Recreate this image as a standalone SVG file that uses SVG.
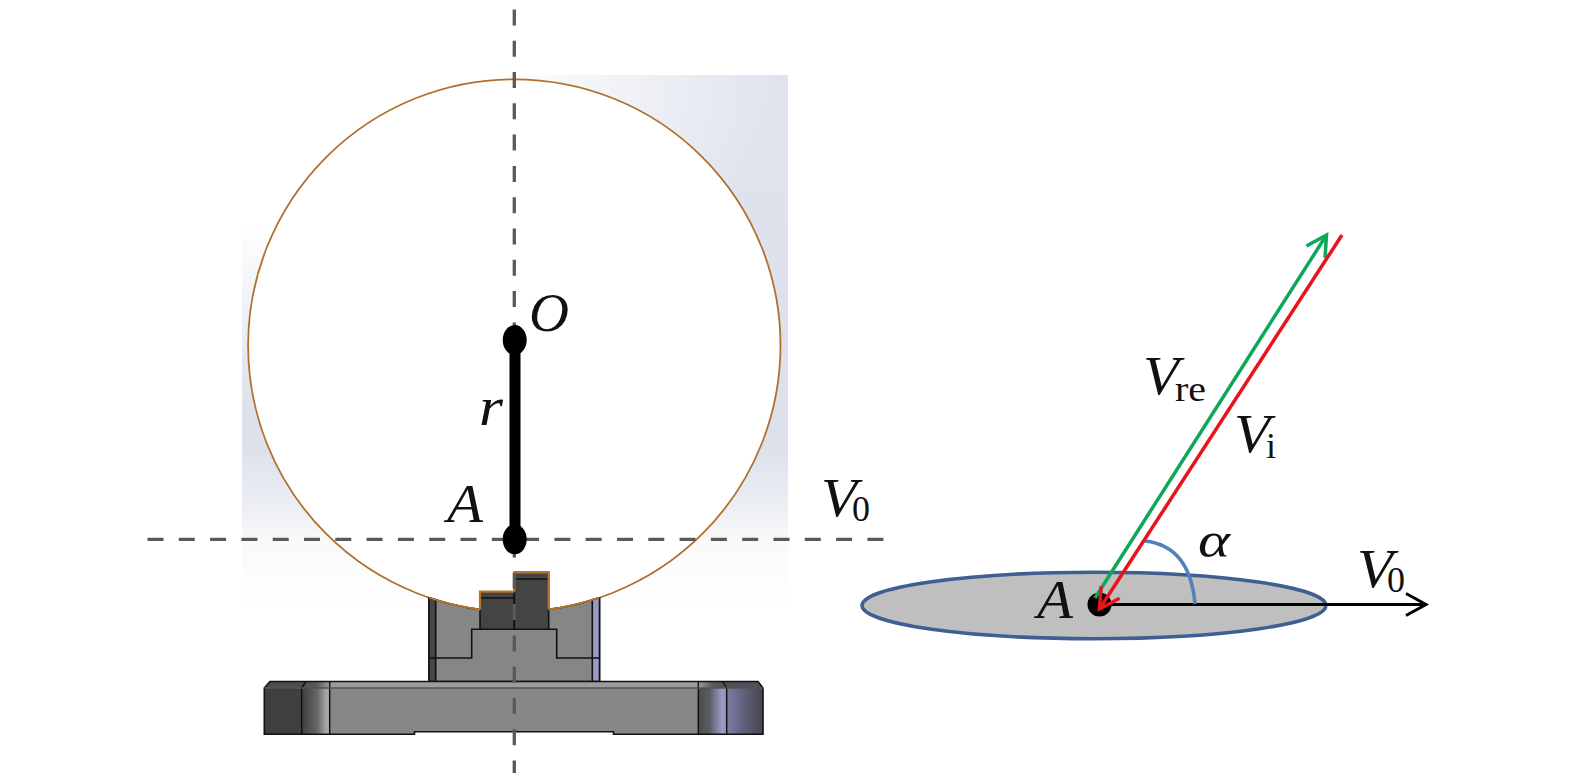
<svg xmlns="http://www.w3.org/2000/svg" width="1575" height="781" viewBox="0 0 1575 781">
<style>
.m{font-family:"Liberation Serif","Times New Roman",serif;font-style:italic;font-size:54px;fill:#111}
.s{font-family:"Liberation Serif","Times New Roman",serif;font-size:36px;fill:#111}
.e{stroke:#111;stroke-width:1.6;stroke-linejoin:round}
.d{stroke:#595959;stroke-width:3.3;fill:none}
.o{fill:none;stroke:#b8742c;stroke-width:2.2}
</style>
<defs>
<linearGradient id="bgV" gradientUnits="userSpaceOnUse" x1="0" y1="75" x2="0" y2="739"><stop offset="0" stop-color="#dfe3ed"/><stop offset=".56" stop-color="#dde1ec"/><stop offset=".65" stop-color="#eceef4"/><stop offset=".7" stop-color="#f9f9fb"/><stop offset=".76" stop-color="#fdfdfd"/><stop offset=".81" stop-color="#fff"/><stop offset="1" stop-color="#fff"/></linearGradient>
<radialGradient id="bgTL" gradientUnits="userSpaceOnUse" cx="0" cy="0" r="330" gradientTransform="translate(242,75) scale(1.65,1)"><stop offset="0" stop-color="#fff"/><stop offset=".45" stop-color="#fff"/><stop offset="1" stop-color="#fff" stop-opacity="0"/></radialGradient>
<linearGradient id="lg" x1="0" x2="1" y1="0" y2="0"><stop offset="0" stop-color="#3f3f42"/><stop offset=".55" stop-color="#666"/><stop offset=".9" stop-color="#aaa"/><stop offset="1" stop-color="#999"/></linearGradient>
<linearGradient id="rg" x1="0" x2="1" y1="0" y2="0"><stop offset="0" stop-color="#4a4a4c"/><stop offset=".4" stop-color="#5c5c66"/><stop offset=".85" stop-color="#9c9cc8"/><stop offset="1" stop-color="#8c8cb4"/></linearGradient>
<linearGradient id="rg2" x1="0" x2="1" y1="0" y2="0"><stop offset="0" stop-color="#7d7da6"/><stop offset=".5" stop-color="#5e5e78"/><stop offset="1" stop-color="#47474f"/></linearGradient>
<linearGradient id="tl" x1="0" x2="1" y1="0" y2="0"><stop offset="0" stop-color="#4c4c4e"/><stop offset=".55" stop-color="#5a5a5c"/><stop offset="1" stop-color="#9c9c9c"/></linearGradient>
<linearGradient id="tr" x1="0" x2="1" y1="0" y2="0"><stop offset="0" stop-color="#9c9c9c"/><stop offset=".5" stop-color="#5a5a5c"/><stop offset="1" stop-color="#505058"/></linearGradient>
<marker id="hk" markerUnits="userSpaceOnUse" markerWidth="30" markerHeight="30" refX="23" refY="15" orient="auto"><path d="M3 4L23 15L3 26" fill="none" stroke="#000" stroke-width="3"/></marker>
<marker id="hg" markerUnits="userSpaceOnUse" markerWidth="30" markerHeight="30" refX="23" refY="15" orient="auto"><path d="M3 4L23 15L3 26" fill="none" stroke="#0ca858" stroke-width="3.5"/></marker>
<marker id="hr" markerUnits="userSpaceOnUse" markerWidth="30" markerHeight="30" refX="23" refY="15" orient="auto"><path d="M3 4L23 15L3 26" fill="none" stroke="#e8141c" stroke-width="3.5"/></marker>
</defs>
<rect width="1575" height="781" fill="#fff"/>
<g id="background">
<rect x="242" y="75" width="546" height="664" fill="url(#bgV)"/>
<rect x="242" y="75" width="546" height="664" fill="url(#bgTL)"/>
</g>
<g id="sphere"><circle cx="514.3" cy="345.5" r="266.2" fill="#fff" stroke="#b0702e" stroke-width="1.8"/></g>
<g id="support">
<path class="e" d="M429 597.700A266.200 266.200 0 0 0 599.500 597.700V681.500H429Z" fill="#868686"/>
<path class="e" d="M429 597.700L435.700 599.800V681.500H429Z" fill="#47474a"/>
<path class="e" d="M592.300 599.800L599.500 597.700V681.500H592.300Z" fill="#9a9ac8"/>
<path d="M429 658H471.700V629.300H556.700V658H599.500" fill="none" stroke="#111" stroke-width="1.6"/>
<rect class="e" x="480" y="591.700" width="34.300" height="37.600" fill="#444"/>
<rect class="e" x="514.300" y="572.300" width="34.400" height="57" fill="#444"/>
<path d="M480 598H514.300M514.300 579H548.700" stroke="#111" stroke-width="1.500"/>
<path class="o" d="M480 609.500V591.700H514.300M514.300 591.700V572.300H548.700V609.500"/>
<path class="o" style="stroke-width:1.800" d="M429 597.700A266.200 266.200 0 0 0 480 609.500M548.700 609.500A266.200 266.200 0 0 0 599.500 597.700"/>
</g>
<g id="plate">
<path d="M264.300 688L270 681.500H758L763 688V734.300H613.500V731.700H414.500V734.300H264.300Z" fill="#868686"/>
<path d="M264.300 688L270 681.500H306L301.700 688Z" fill="#4c4c4e"/>
<path d="M301.700 688L306 681.500H329.700V688Z" fill="url(#tl)"/>
<rect x="329.700" y="681.500" width="368.600" height="6.500" fill="#9c9c9c"/>
<path d="M698.300 681.500H722.700L726.700 688H698.300Z" fill="url(#tr)"/>
<path d="M722.700 681.500H758L763 688H726.700Z" fill="#505058"/>
<rect x="264.300" y="688" width="37.400" height="46.300" fill="#3f3f42"/>
<rect x="301.700" y="688" width="28" height="46.300" fill="url(#lg)"/>
<rect x="698.300" y="688" width="28.400" height="46.300" fill="url(#rg)"/>
<rect x="726.700" y="688" width="36.300" height="46.300" fill="url(#rg2)"/>
<path d="M264.300 688L270 681.500H758L763 688V734.300H613.500V731.700H414.500V734.300H264.300Z" fill="none" stroke="#111" stroke-width="1.600"/>
<path d="M301.700 688V734.300M329.700 681.500V734.300M698.300 681.500V734.300M726.700 688V734.300M301.700 688L306 681.500M726.700 688L722.700 681.500" fill="none" stroke="#111" stroke-width="1.400"/>
<line x1="264.300" y1="688" x2="763" y2="688" stroke="#555" stroke-width="1.500"/>
</g>
<g id="connectors">
<line class="d" x1="514.300" y1="9.400" x2="514.300" y2="773" stroke-dasharray="16 15.300"/>
<line class="d" x1="147.500" y1="539.300" x2="884" y2="539.300" stroke-dasharray="16 15.300"/>
</g>
<g id="radius">
<line x1="515" y1="340" x2="515" y2="539.300" stroke="#000" stroke-width="11"/>
</g>
<g id="node-O"><ellipse cx="514.700" cy="340" rx="12" ry="15" fill="#000"/><text class="m" x="529" y="331" textLength="40" lengthAdjust="spacingAndGlyphs">O</text></g>
<g id="node-A"><ellipse cx="514.700" cy="539.300" rx="12" ry="15" fill="#000"/><text class="m" x="447" y="522" textLength="36" lengthAdjust="spacingAndGlyphs">A</text></g>
<text id="label-r" class="m" x="479" y="425" textLength="24" lengthAdjust="spacingAndGlyphs">r</text>
<g id="label-V0-left"><text class="m" x="821" y="516" textLength="36" lengthAdjust="spacingAndGlyphs">V</text><text class="s" x="852" y="521">0</text></g>
<g id="disc"><ellipse cx="1094" cy="605.500" rx="232" ry="33.200" fill="#bfbfbf" stroke="#3f5f91" stroke-width="3.500"/></g>
<g id="node-A2"><circle cx="1099.500" cy="604.500" r="12" fill="#000"/><text class="m" x="1037" y="618" textLength="36" lengthAdjust="spacingAndGlyphs">A</text></g>
<g id="vectors">
<line x1="1099.500" y1="604.500" x2="1426" y2="604.500" stroke="#000" stroke-width="3.200" marker-end="url(#hk)"/>
<path d="M1145 541Q1190 546 1195 604" fill="none" stroke="#4f81bd" stroke-width="3.500"/>
<line x1="1095" y1="598" x2="1326.500" y2="235" stroke="#0ca858" stroke-width="3.500" marker-end="url(#hg)"/>
<line x1="1342" y1="235" x2="1099.500" y2="609" stroke="#e8141c" stroke-width="3.500" marker-end="url(#hr)"/>
</g>
<g id="label-Vre"><text class="m" x="1143" y="394" textLength="36" lengthAdjust="spacingAndGlyphs">V</text><text class="s" x="1175" y="401" textLength="31" lengthAdjust="spacingAndGlyphs">re</text></g>
<g id="label-Vi"><text class="m" x="1234" y="452" textLength="36" lengthAdjust="spacingAndGlyphs">V</text><text class="s" x="1266" y="458">i</text></g>
<g id="label-V0-right"><text class="m" x="1357" y="587" textLength="36" lengthAdjust="spacingAndGlyphs">V</text><text class="s" x="1387" y="592">0</text></g>
<text id="label-alpha" class="m" x="1198" y="557" style="font-size:50px" textLength="32" lengthAdjust="spacingAndGlyphs">α</text>
</svg>
